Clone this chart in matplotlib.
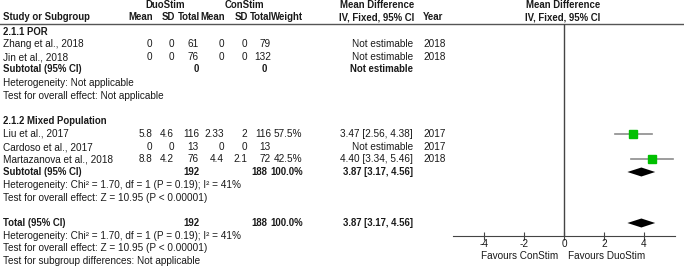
import numpy as np
import matplotlib.pyplot as plt

plt.rcParams['font.family'] = ['Liberation Sans', 'DejaVu Sans']

# study-level data
study = ["Zhang et al., 2018", "Jin et al., 2018", "Liu et al., 2017",
         "Cardoso et al., 2017", "Martazanova et al., 2018"]
duo_mean = [0, 0, 5.8, 0, 8.8]
duo_sd = [0, 0, 4.6, 0, 4.2]
duo_n = [61, 76, 116, 13, 76]
con_mean = [0, 0, 2.33, 0, 4.4]
con_sd = [0, 0, 2, 0, 2.1]
con_n = [79, 132, 116, 13, 72]
weight = [np.nan, np.nan, 57.5, np.nan, 42.5]
md = [np.nan, np.nan, 3.47, np.nan, 4.40]
md_lo = [np.nan, np.nan, 2.56, np.nan, 3.34]
md_hi = [np.nan, np.nan, 4.38, np.nan, 5.46]
year = [2018, 2018, 2017, 2017, 2018]

# subgroups
sub_names = ["2.1.1 POR", "2.1.2 Mixed Population"]
sub_duo_n = [0, 192]
sub_con_n = [0, 188]
sub_weight = [np.nan, 100.0]
sub_md = [np.nan, 3.87]
sub_lo = [np.nan, 3.17]
sub_hi = [np.nan, 4.56]
sub_het = ["Heterogeneity: Not applicable",
           "Heterogeneity: Chi\u00b2 = 1.70, df = 1 (P = 0.19); I\u00b2 = 41%"]
sub_test = ["Test for overall effect: Not applicable",
            "Test for overall effect: Z = 10.95 (P < 0.00001)"]

tot_duo_n, tot_con_n, tot_weight = 192, 188, 100.0
tot_md, tot_lo, tot_hi = 3.87, 3.17, 4.56
tot_het = "Heterogeneity: Chi\u00b2 = 1.70, df = 1 (P = 0.19); I\u00b2 = 41%"
tot_test = "Test for overall effect: Z = 10.95 (P < 0.00001)"
sub_diff = "Test for subgroup differences: Not applicable"

xticks = [-4, -2, 0, 2, 4]

# layout (pixel rows / columns)
W, H = 684, 268
FS = 7.2
FSB = 6.9
TXT = '#1a1a1a'
study_rows = [44, 57, 134, 147, 159]
sub_head_rows = [32, 121]
sub_rows = [69, 172]
het_rows = [83, 185]
test_rows = [96, 198]
total_row, tot_het_row, tot_test_row, diff_row = 223, 236, 248, 261
col = dict(dm=152, ds=174, dn=199, cm=224, cs=247, cn=271, w=302, md=413, yr=423)

fig = plt.figure(figsize=(W / 100, H / 100), dpi=100)
ax = fig.add_axes([0, 0, 1, 1])
ax.set_xlim(0, W)
ax.set_ylim(H, 0)
ax.axis('off')


def t(x, y, s, ha='left', bold=False):
    ax.text(x, y, s, ha=ha, va='center', fontsize=FSB if bold else FS, color=TXT,
            fontweight='bold' if bold else 'normal')


def fmt(v):
    return f"{v:g}"


# headers
t(165, 5, "DuoStim", 'center', True)
t(244, 5, "ConStim", 'center', True)
t(377, 5, "Mean Difference", 'center', True)
t(563, 5, "Mean Difference", 'center', True)
t(3, 17, "Study or Subgroup", bold=True)
for key, lab in [('dm', 'Mean'), ('ds', 'SD'), ('dn', 'Total'), ('cm', 'Mean'),
                 ('cs', 'SD'), ('cn', 'Total'), ('w', 'Weight')]:
    t(col[key] + 1, 17, lab, 'right', True)
t(377, 17, "IV, Fixed, 95% CI", 'center', True)
t(col['yr'], 17, "Year", bold=True)
t(563, 17, "IV, Fixed, 95% CI", 'center', True)
ax.plot([0, W], [23.5, 23.5], color='#555555', lw=1)

# study rows
for i, y in enumerate(study_rows):
    t(3, y, study[i])
    t(col['dm'], y, fmt(duo_mean[i]), 'right')
    t(col['ds'], y, fmt(duo_sd[i]), 'right')
    t(col['dn'], y, str(duo_n[i]), 'right')
    t(col['cm'], y, fmt(con_mean[i]), 'right')
    t(col['cs'], y, fmt(con_sd[i]), 'right')
    t(col['cn'], y, str(con_n[i]), 'right')
    if not np.isnan(weight[i]):
        t(col['w'], y, f"{weight[i]:.1f}%", 'right')
        t(col['md'], y, f"{md[i]:.2f} [{md_lo[i]:.2f}, {md_hi[i]:.2f}]", 'right')
    else:
        t(col['md'], y, "Not estimable", 'right')
    t(col['yr'], y, str(year[i]))

# subgroup rows
for g in range(2):
    t(3, sub_head_rows[g], sub_names[g], bold=True)
    y = sub_rows[g]
    t(3, y, "Subtotal (95% CI)", bold=True)
    t(col['dn'], y, str(sub_duo_n[g]), 'right', True)
    t(col['cn'] - 4, y, str(sub_con_n[g]), 'right', True)
    if np.isnan(sub_md[g]):
        t(col['md'], y, "Not estimable", 'right', True)
    else:
        t(col['w'] + 1, y, f"{sub_weight[g]:.1f}%", 'right', True)
        t(col['md'], y, f"{sub_md[g]:.2f} [{sub_lo[g]:.2f}, {sub_hi[g]:.2f}]", 'right', True)
    t(3, het_rows[g], sub_het[g])
    t(3, test_rows[g], sub_test[g])

# total
t(3, total_row, "Total (95% CI)", bold=True)
t(col['dn'], total_row, str(tot_duo_n), 'right', True)
t(col['cn'] - 4, total_row, str(tot_con_n), 'right', True)
t(col['w'] + 1, total_row, f"{tot_weight:.1f}%", 'right', True)
t(col['md'], total_row, f"{tot_md:.2f} [{tot_lo:.2f}, {tot_hi:.2f}]", 'right', True)
t(3, tot_het_row, tot_het)
t(3, tot_test_row, tot_test)
t(3, diff_row, sub_diff)

t(558, 256, "Favours ConStim", 'right')
t(568, 256, "Favours DuoStim")

# forest panel
axis_y = 236
fx0, fx1 = 453, 675
fa = fig.add_axes([fx0 / W, (H - axis_y) / H, (fx1 - fx0) / W, (axis_y - 23.5) / H])
fa.set_xlim(-5.55, 5.55)
fa.set_ylim(axis_y, 23.5)
fa.patch.set_alpha(0)
for s in ['top', 'left', 'right']:
    fa.spines[s].set_visible(False)
fa.spines['bottom'].set_color('#444444')
fa.set_yticks([])
fa.set_xticks(xticks)
fa.set_xticklabels([str(v) for v in xticks])
fa.tick_params(axis='x', direction='inout', length=6, width=0.8, pad=-1,
               labelsize=FS, colors='#444444', labelcolor=TXT)
fa.axvline(0, color='#444444', lw=1)

for i, y in enumerate(study_rows):
    if np.isnan(md[i]):
        continue
    fa.plot([md_lo[i], md_hi[i]], [y, y], color='#8c8c8c', lw=1.2)
    fa.plot(md[i], y, 's', color='#00c000', mec='#00c000',
            ms=0.85 * np.sqrt(weight[i]))


def diamond(y, m, lo, hi, h=4.5):
    fa.fill([lo, m, hi, m], [y, y - h, y, y + h], color='black', lw=0)


for g in range(2):
    if not np.isnan(sub_md[g]):
        diamond(sub_rows[g], sub_md[g], sub_lo[g], sub_hi[g])
diamond(total_row, tot_md, tot_lo, tot_hi)

fig.savefig('out.png', dpi=100)
